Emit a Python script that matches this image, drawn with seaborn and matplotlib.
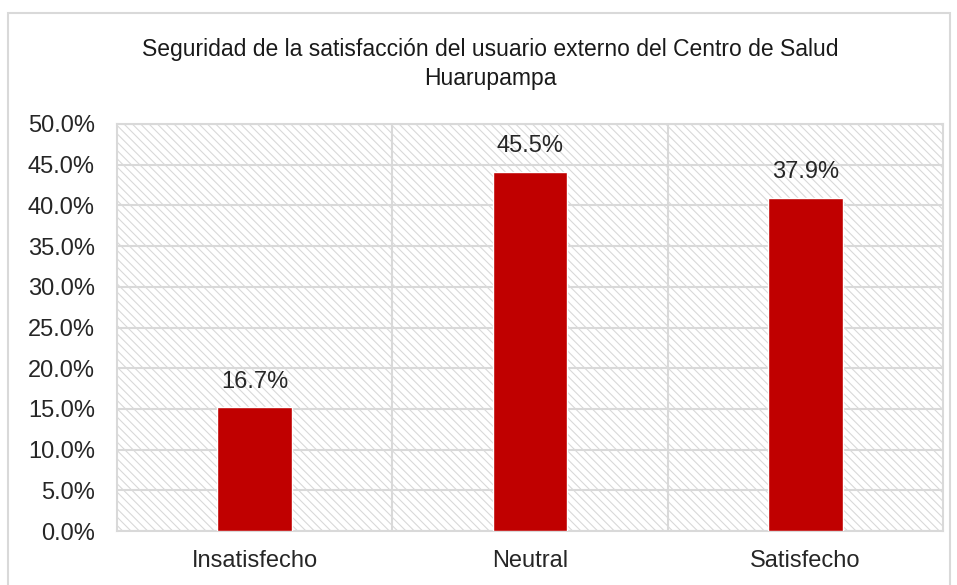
import matplotlib
matplotlib.use("Agg")
import matplotlib.pyplot as plt
import matplotlib.patches as mpatches
from matplotlib.ticker import PercentFormatter
import seaborn as sns
import pandas as pd

categories = ["Insatisfecho", "Neutral", "Satisfecho"]
bar_heights = [15.2, 44.1, 40.9]
bar_labels = ["16.7%", "45.5%", "37.9%"]
y_ticks = [0, 5, 10, 15, 20, 25, 30, 35, 40, 45, 50]

sns.set_style("white")
plt.rcParams["font.family"] = ["Liberation Sans", "DejaVu Sans"]
plt.rcParams["hatch.color"] = "#d9d9d9"
plt.rcParams["hatch.linewidth"] = 0.8

df = pd.DataFrame({"cat": categories, "val": bar_heights})

fig = plt.figure(figsize=(9.57, 5.85), dpi=100)
# outer chart frame
fig.patches.append(mpatches.Rectangle((0.008, -0.05), 0.985, 1.027, transform=fig.transFigure,
                                      fill=False, edgecolor="#d9d9d9", linewidth=1.5))
ax = fig.add_axes([117 / 957, 1 - 531 / 585, 826 / 957, 407 / 585])

ax.patch.set_facecolor("white")
ax.patch.set_hatch("\\\\\\\\")
ax.patch.set_edgecolor("#d9d9d9")

sns.barplot(data=df, x="cat", y="val", color="#c00000", width=0.27, saturation=1, ax=ax, zorder=3)

ax.set_ylim(0, 50)
ax.set_xlim(-0.5, 2.5)
ax.set_yticks(y_ticks)
ax.yaxis.set_major_formatter(PercentFormatter(decimals=1))
for y in y_ticks:
    ax.axhline(y, color="#d9d9d9", linewidth=1.5, zorder=1)
for x in [0.5, 1.5]:
    ax.axvline(x, color="#d9d9d9", linewidth=1.5, zorder=1)
for s in ax.spines.values():
    s.set_color("#d9d9d9")
    s.set_linewidth(1.5)

for i, (h, lab) in enumerate(zip(bar_heights, bar_labels)):
    ax.text(i, h + 1.8, lab, ha="center", va="bottom", fontsize=17, color="#262626", zorder=4)

ax.set_xlabel("")
ax.set_ylabel("")
ax.tick_params(axis="y", labelsize=17, colors="#262626", length=0, pad=16)
ax.tick_params(axis="x", labelsize=17, colors="#262626", length=0, pad=14)

fig.text(490 / 957, 1 - 64 / 585, "Seguridad de la satisfacción del usuario externo del Centro de Salud\nHuarupampa",
         ha="center", va="center", fontsize=16.5, color="#1a1a1a", linespacing=1.3)

fig.savefig("out.png", dpi=100)
